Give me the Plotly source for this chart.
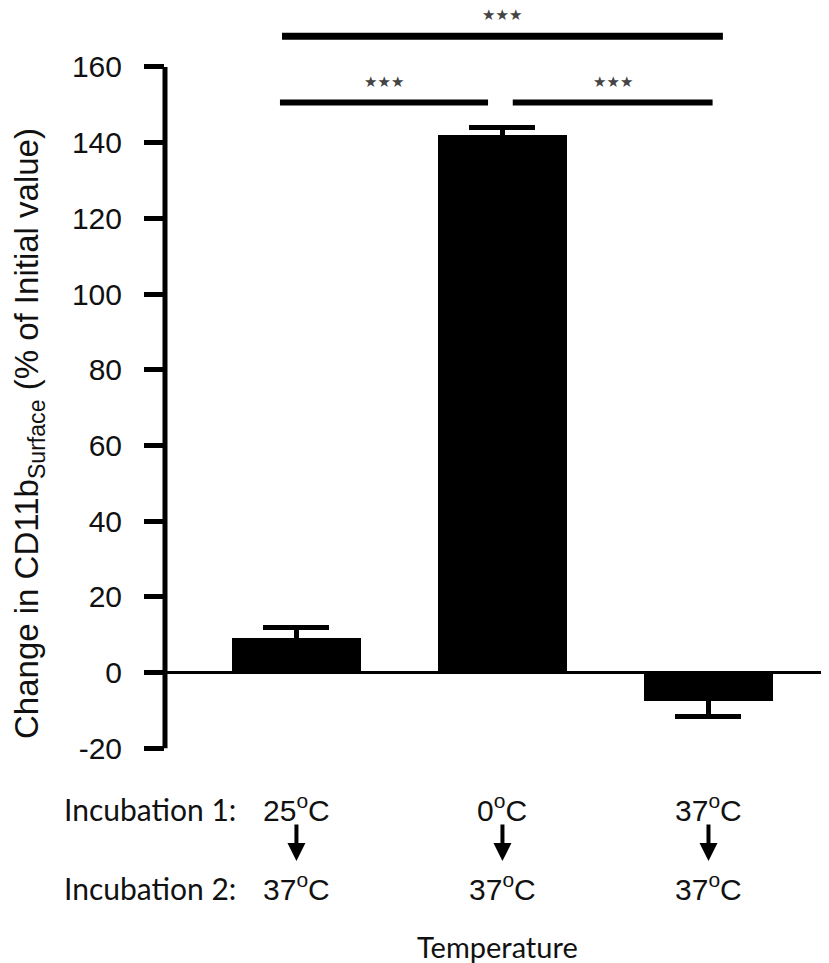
import plotly.graph_objects as go

# ---- data ----
incubation1 = ["25", "0", "37"]
incubation2 = ["37", "37", "37"]
values = [9.0, 142.0, -7.5]
errors = [3.0, 2.0, 4.0]
y_ticks = [-20, 0, 20, 40, 60, 80, 100, 120, 140, 160]
y_tick_text = ["-20", "0", "20", "40", "60", "80", "100", "120", "140", "160"]
# significance comparisons: (group i, group j, bracket height, label)
comparisons = [(0, 1, 150.6, "★★★"), (1, 2, 150.6, "★★★"), (0, 2, 168.1, "★★★")]

x_pos = list(range(len(values)))

OFF = 8  # page body margin
PAGE_W, PAGE_H = 829, 963
W, H = PAGE_W - OFF, PAGE_H - OFF
PLOT_L, PLOT_R, PLOT_T, PLOT_B = 165, 829, 8, 760  # page pixels
ML = PLOT_L - OFF
MR = 0
MT = PLOT_T - OFF
MB = PAGE_H - PLOT_B
PW, PH = PLOT_R - PLOT_L, PLOT_B - PLOT_T

Y0_PX, PX_PER_UNIT = 672.5, 3.785
y_range = [(Y0_PX - PLOT_B) / PX_PER_UNIT, (Y0_PX - PLOT_T) / PX_PER_UNIT]


def px_x(px):
    return (px - PLOT_L) / PW


def px_y(py):
    return (PLOT_B - py) / PH


fig = go.Figure()
fig.add_trace(go.Bar(
    x=x_pos, y=values, width=0.626,
    marker=dict(color="black", line=dict(color="black", width=0)),
    error_y=dict(type="data", array=errors, symmetric=True,
                 color="black", thickness=5, width=33),
    showlegend=False, hoverinfo="skip",
))

shapes = []
annotations = []

# y axis line (only between -20 and 160)
shapes.append(dict(type="line", xref="paper", yref="y", x0=0, x1=0,
                   y0=y_ticks[0], y1=y_ticks[-1],
                   line=dict(color="black", width=5)))

# significance brackets
bracket_ends = {(0, 1): (-0.08, -0.07), (1, 2): (0.05, 0.02), (0, 2): (-0.07, 0.07)}
bracket_w = {(0, 1): 6, (1, 2): 6, (0, 2): 7}
for i, j, lvl, lab in comparisons:
    a, b = bracket_ends[(i, j)]
    x0, x1 = x_pos[i] + a, x_pos[j] + b
    shapes.append(dict(type="line", xref="x", yref="y", x0=x0, x1=x1, y0=lvl, y1=lvl,
                       line=dict(color="black", width=bracket_w[(i, j)])))
    annotations.append(dict(xref="x", yref="y", x=(x0 + x1) / 2, y=lvl + 5.5,
                            text=lab, showarrow=False, xanchor="center", yanchor="middle",
                            font=dict(family="DejaVu Sans", size=15, color="#444")))

# y axis title
annotations.append(dict(
    xref="paper", yref="paper", x=px_x(29), y=px_y(434),
    text="Change in CD11b<sub>Surface</sub> (% of Initial value)",
    textangle=-90, showarrow=False, xanchor="center", yanchor="middle",
    font=dict(family="Liberation Sans, Arial", size=33, color="#111")))

lab_font = dict(family="Lato, Liberation Sans", size=30, color="#111")
tmp_font = dict(family="Liberation Sans, Arial", size=30, color="#111")

annotations.append(dict(xref="paper", yref="paper", x=px_x(62), y=px_y(809),
                        text="Incubation 1:", showarrow=False, xanchor="left",
                        yanchor="middle", font=lab_font))
annotations.append(dict(xref="paper", yref="paper", x=px_x(62), y=px_y(888),
                        text="Incubation 2:", showarrow=False, xanchor="left",
                        yanchor="middle", font=lab_font))
annotations.append(dict(xref="paper", yref="paper", x=px_x(497), y=px_y(946),
                        text="Temperature", showarrow=False, xanchor="center",
                        yanchor="middle", font=dict(family="Lato, Liberation Sans", size=29, color="#111")))

for k, (t1, t2) in enumerate(zip(incubation1, incubation2)):
    annotations.append(dict(xref="x", yref="paper", x=x_pos[k], y=px_y(808),
                            text=f"{t1}<sup>o</sup>C", showarrow=False,
                            xanchor="center", yanchor="middle", font=tmp_font))
    annotations.append(dict(xref="x", yref="paper", x=x_pos[k], y=px_y(887),
                            text=f"{t2}<sup>o</sup>C", showarrow=False,
                            xanchor="center", yanchor="middle", font=tmp_font))
    annotations.append(dict(xref="x", yref="paper", x=x_pos[k], y=px_y(861),
                            ax=0, ay=-38, axref="pixel", ayref="pixel",
                            text="", showarrow=True, arrowhead=2, arrowsize=0.9,
                            arrowwidth=4, arrowcolor="black"))

fig.update_layout(
    width=W, height=H,
    margin=dict(l=ML, r=MR, t=MT, b=MB, pad=0),
    paper_bgcolor="white", plot_bgcolor="white",
    xaxis=dict(range=[-0.638, 2.585], showticklabels=False, ticks="",
               showgrid=False, zeroline=False, showline=False, fixedrange=True),
    yaxis=dict(range=y_range, tickvals=y_ticks, ticktext=y_tick_text, ticks="outside",
               ticklen=20, tickwidth=5, tickcolor="black",
               ticklabelstandoff=16,
               tickfont=dict(family="Liberation Sans, Arial", size=30, color="#111"),
               showgrid=False, showline=False,
               zeroline=True, zerolinecolor="black", zerolinewidth=3),
    shapes=shapes, annotations=annotations,
    bargap=0,
)

fig.write_html("out.html")
